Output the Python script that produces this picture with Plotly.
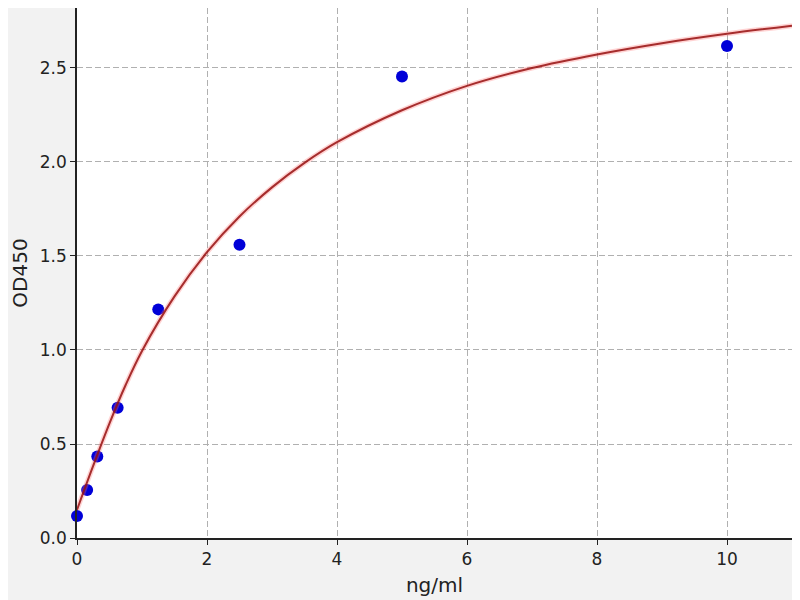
import plotly.graph_objects as go

# standard points (concentration vs OD)
conc = [0, 0.156, 0.3125, 0.625, 1.25, 2.5, 5, 10]
od = [0.117, 0.255, 0.433, 0.693, 1.216, 1.56, 2.455, 2.617]

# fitted curve
fit_x = [0, 0.25, 0.5, 0.75, 1, 1.5, 2, 2.5, 3, 3.5, 4, 5, 6, 7, 8, 9, 10, 11]
fit_y = [0.15, 0.385, 0.61, 0.815, 0.995, 1.285, 1.52, 1.71, 1.865, 1.995, 2.105,
         2.275, 2.405, 2.50, 2.572, 2.632, 2.682, 2.725]

x_ticks = [0, 2, 4, 6, 8, 10]
y_ticks = [0.0, 0.5, 1.0, 1.5, 2.0, 2.5]

fig = go.Figure()

fig.add_trace(go.Scatter(
    x=conc, y=od, mode="markers",
    marker=dict(color="#0000d8", size=12, line=dict(width=0)),
    showlegend=False, cliponaxis=False
))

# soft glow under the red line
fig.add_trace(go.Scatter(
    x=fit_x, y=fit_y, mode="lines", line_shape="spline",
    line=dict(color="rgba(255,110,110,0.3)", width=5),
    showlegend=False
))
fig.add_trace(go.Scatter(
    x=fit_x, y=fit_y, mode="lines", line_shape="spline",
    line=dict(color="rgba(150,15,15,0.85)", width=2),
    showlegend=False
))

axis_style = dict(
    showline=True, linecolor="#222222", linewidth=1.5, mirror=True,
    showgrid=True, gridcolor="#b0b0b0", griddash="6px,3px", gridwidth=1,
    ticks="outside", ticklen=5, tickcolor="#222222", zeroline=False,
    tickfont=dict(family="DejaVu Sans", size=17, color="#222222"),
)

# page body adds 8px, so the figure is a bit smaller than the window
fig.update_layout(
    width=792, height=592,
    margin=dict(l=69, r=8, t=0, b=62, autoexpand=False),
    paper_bgcolor="#f2f2f2", plot_bgcolor="white",
    font=dict(family="DejaVu Sans", size=17, color="#222222"),
    xaxis=dict(range=[0, 11], tickvals=x_ticks, ticktext=[str(v) for v in x_ticks],
               title=dict(text="ng/ml", standoff=10), **axis_style),
    yaxis=dict(range=[0, 2.819], tickvals=y_ticks, ticktext=["%.1f" % v for v in y_ticks],
               title=dict(text="OD450", standoff=12), **axis_style),
)

fig.write_html("out.html")
